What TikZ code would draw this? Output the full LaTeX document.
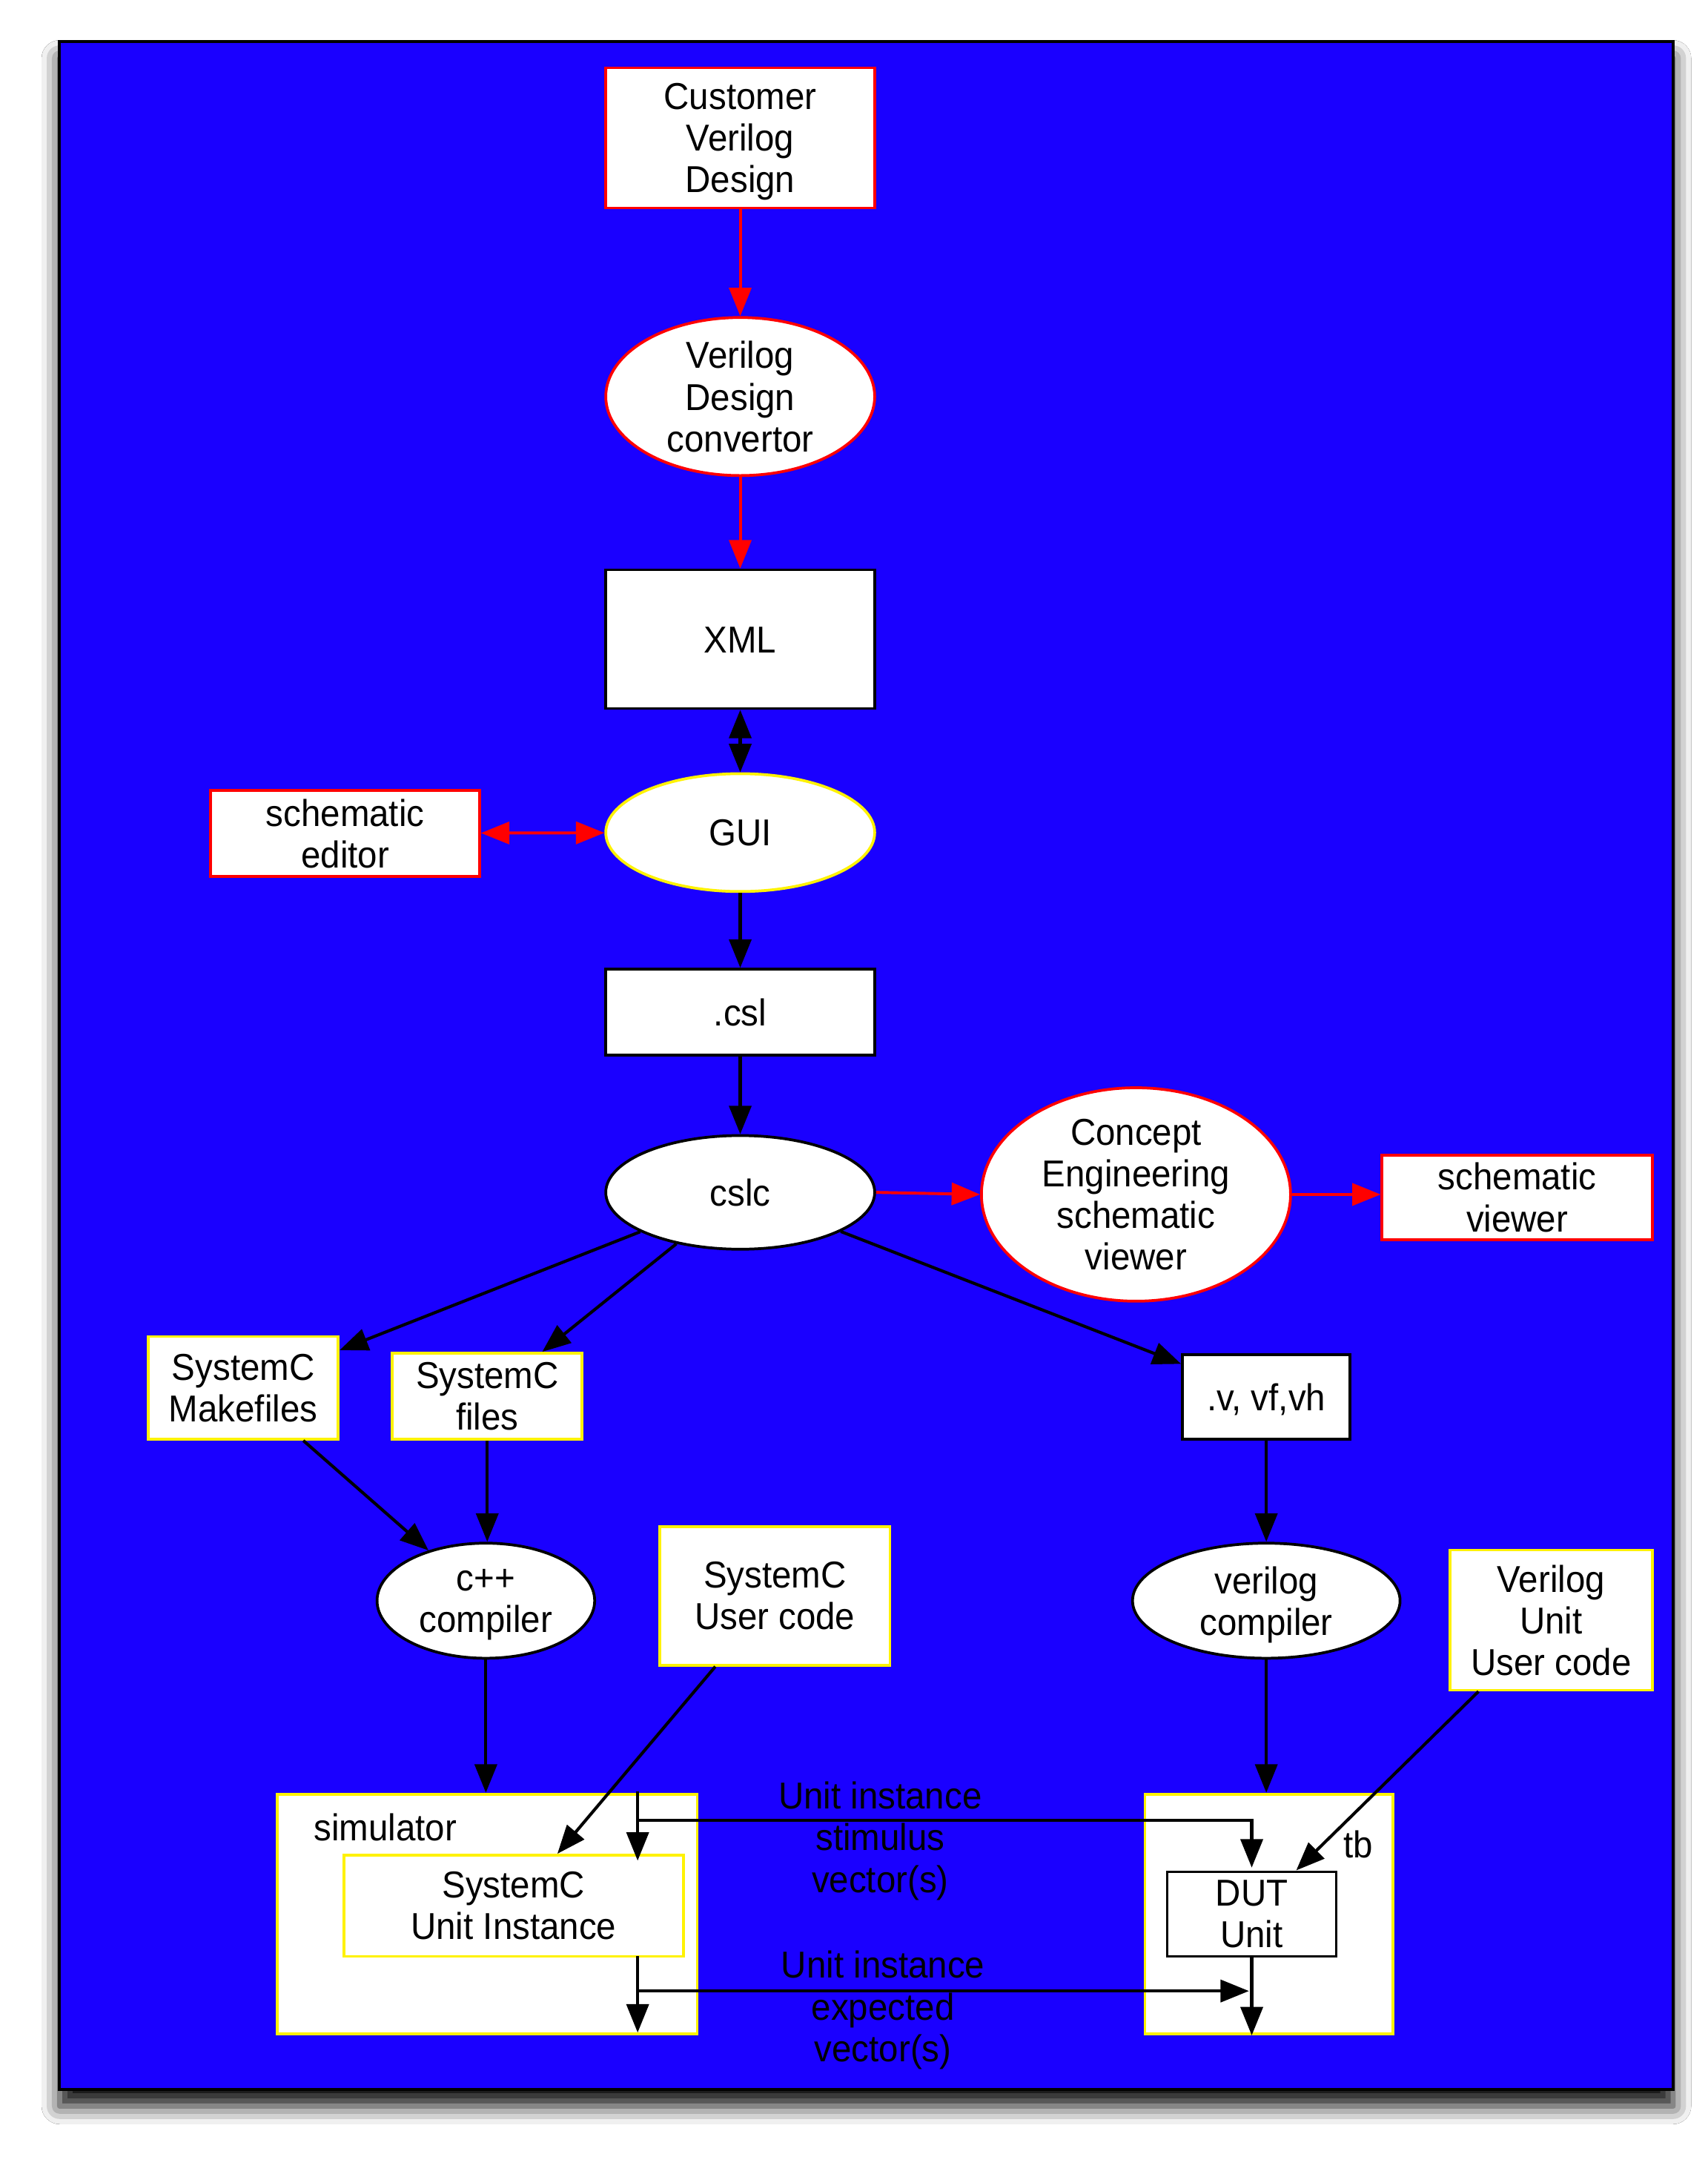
\documentclass[tikz,border=0pt]{standalone}
\usepackage{fontspec}
\setmainfont{Liberation Sans}[FakeStretch=0.94]
\usetikzlibrary{shapes.geometric,arrows.meta,shadows.blur}
\definecolor{bgblue}{RGB}{26,0,255}
\begin{document}
\begin{tikzpicture}[x=1pt,y=-1pt,
  txt/.style={font=\fontsize{27}{30}\selectfont, align=center, text=black,
    text depth=0pt, execute at begin node={\rule{0pt}{19.3pt}}},
  base/.style={txt, draw, fill=white, line width=2pt, inner sep=0pt},
  kbox/.style={base, rectangle, draw=black},
  rbox/.style={base, rectangle, draw=red},
  ybox/.style={base, rectangle, draw=yellow},
  koval/.style={base, ellipse, draw=black},
  roval/.style={base, ellipse, draw=red},
  yoval/.style={base, ellipse, draw=yellow},
  tip/.tip={Triangle[length=20.5pt,width=16pt]},
  blk/.style={line width=2.2pt, draw=black, -tip},
  blkdbl/.style={line width=2.2pt, draw=black, tip-tip},
  redarr/.style={line width=2.1pt, draw=red, -{Triangle[length=20.5pt,width=16pt,fill=red]}},
  reddbl/.style={line width=2.1pt, draw=red, {Triangle[length=20.5pt,width=16pt,fill=red]}-{Triangle[length=20.5pt,width=16pt,fill=red]}}
]
\useasboundingbox (0,0) rectangle (1232,1568);
\fill[white] (0,0) rectangle (1232,1568);
\path[fill=bgblue, draw=black, line width=2.2pt,
  blur shadow={shadow xshift=0pt, shadow yshift=-12pt, shadow blur radius=13pt, shadow opacity=95}]
  (43,30) rectangle (1207,1507);

% nodes
\node[rbox, minimum width=194pt, minimum height=101pt] (cvd) at (534,99.5) {Customer\\Verilog\\Design};
\node[roval, minimum width=194pt, minimum height=114pt] (vdc) at (534,286) {Verilog\\Design\\convertor};
\node[kbox, minimum width=194pt, minimum height=100pt] (xml) at (534,461) {XML};
\node[yoval, minimum width=194pt, minimum height=85pt] (gui) at (534,600.5) {GUI};
\node[rbox, minimum width=194pt, minimum height=62pt] (sed) at (249,601) {schematic\\editor};
\node[kbox, minimum width=194pt, minimum height=62pt] (csl) at (534,730) {.csl};
\node[koval, minimum width=194pt, minimum height=82pt] (cslc) at (534,860) {cslc};
\node[roval, minimum width=223pt, minimum height=129pt] (cesv) at (819.5,861.5) {Concept\\Engineering\\schematic\\viewer};
\node[rbox, minimum width=195pt, minimum height=61pt] (sv) at (1094.5,863.5) {schematic\\viewer};
\node[ybox, minimum width=137pt, minimum height=74pt] (mk) at (175.5,1001) {SystemC\\Makefiles};
\node[ybox, minimum width=137pt, minimum height=62pt] (scf) at (351.5,1007) {SystemC\\files};
\node[kbox, minimum width=121pt, minimum height=61pt] (vf) at (913.5,1007.5) {.v, vf,vh};
\node[koval, minimum width=157pt, minimum height=83pt] (cpp) at (350.5,1154.5) {c++\\compiler};
\node[ybox, minimum width=166pt, minimum height=100pt] (uc) at (559,1151) {SystemC\\User code};
\node[koval, minimum width=193pt, minimum height=83pt] (vc) at (913.5,1154.5) {verilog\\compiler};
\node[ybox, minimum width=146pt, minimum height=101pt] (vuc) at (1119,1168.5) {Verilog\\Unit\\User code};
\node[ybox, minimum width=303pt, minimum height=173pt] (sim) at (351.5,1380.5) {};
\node[txt] (simlbl) at (278,1318) {simulator};
\node[ybox, minimum width=245pt, minimum height=73pt] (sui) at (370.5,1374.5) {SystemC\\Unit Instance};
\node[ybox, minimum width=179pt, minimum height=173pt] (tb) at (915.5,1380.5) {};
\node[txt] (tblbl) at (980,1330) {tb};
\node[kbox, minimum width=122pt, minimum height=61pt] (dut) at (903,1380.5) {DUT\\Unit};
\node[txt] (stimlbl) at (635,1325) {Unit instance\\stimulus\\vector(s)};
\node[txt] (explbl) at (637,1447) {Unit instance\\expected\\vector(s)};

% connectors
\draw[redarr] (cvd) -- (vdc);
\draw[redarr] (vdc) -- (xml);
\draw[blkdbl] (xml) -- (gui);
\draw[reddbl] (sed) -- (gui);
\draw[blk] (gui) -- (csl);
\draw[blk] (csl) -- (cslc);
\draw[redarr] (cslc.east) -- (cesv.west);
\draw[redarr] (cesv.east) -- (cesv.east -| sv.west);
\draw[blk] (cslc) -- (mk);
\draw[blk] (cslc) -- (scf);
\draw[blk] (cslc) -- (vf);
\draw[blk] (mk) -- (cpp);
\draw[blk] (scf.south) -- (scf.south |- cpp.north);
\draw[blk] (vf) -- (vc);
\draw[blk] (cpp.south) -- (cpp.south |- sim.north);
\draw[blk] (vc.south) -- (vc.south |- tb.north);
\draw[blk] (uc) -- (sui);
\draw[blk] (vuc) -- (dut);

% stimulus / expected vectors
\coordinate (s0) at (460,1292);
\coordinate (s1) at (460,1342);
\coordinate (s2) at (460,1313);
\coordinate (s3) at (903,1313);
\coordinate (s4) at (903,1347);
\draw[blk] (s0) -- (s1);
\draw[blk] (s2) -- (s3) -- (s4);
\coordinate (e0) at (460,1411);
\coordinate (e1) at (460,1466);
\coordinate (e2) at (460,1436);
\coordinate (e3) at (901,1436);
\draw[blk] (e0) -- (e1);
\draw[blk] (e2) -- (e3);
\draw[blk] (dut.south) -- (dut.south |- tb.south);
\end{tikzpicture}
\end{document}
